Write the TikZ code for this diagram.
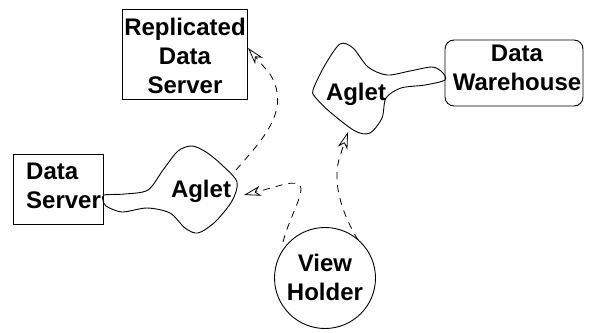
\documentclass[tikz,border=0pt]{standalone}
\usepackage{fontspec}
\setmainfont{Liberation Sans}
\usetikzlibrary{arrows.meta}
\begin{document}
\begin{tikzpicture}[x=1pt,y=-1pt,
  lbl/.style={font=\bfseries\fontsize{24}{29}\selectfont, inner sep=0pt},
  blob/.style={draw, line width=0.9pt},
  flow/.style={draw, dashed, dash pattern=on 7pt off 6pt, line width=0.8pt,
    -{Stealth[open, length=17pt, width=10pt, inset=5pt]}}]
\useasboundingbox (0,0) rectangle (589,332);

% boxes
\draw[line width=0.9pt] (122,9) rectangle (247,99);
\node[lbl, align=center] (rds) at (185,56) {Replicated\\Data\\Server};
\draw[line width=0.9pt] (13,154) rectangle (103,224);
\node[lbl, align=left, anchor=west] (ds) at (26,186) {Data\\Server};
\draw[line width=0.9pt, rounded corners=9pt] (445,40) rectangle (583,106);
\node[lbl, align=center] (dw) at (517,68) {Data\\Warehouse};

% view holder
\node[draw, circle, line width=0.9pt, minimum size=101pt, inner sep=0pt] (vhc) at (325,278) {};
\node[lbl, align=center] (vh) at (325,277) {View\\Holder};

% aglet outlines with tails reaching the servers
\draw[blob] plot[smooth cycle, tension=0.5] coordinates {
  (104,195) (125,194) (148,190) (163,170) (178,151) (192,146) (206,152)
  (222,165) (237,182) (232,201) (215,222) (198,233) (185,228) (170,213)
  (147,208) (122,212) (106,206) (103,200)};
\node[lbl, anchor=base] (ag1) at (201,197) {Aglet};

\draw[blob] plot[smooth cycle, tension=0.5] coordinates {
  (313,90) (325,65) (340,44) (353,48) (368,67) (387,75) (410,71) (432,67)
  (442,72) (445,80) (425,85) (401,88) (386,98) (382,118) (370,133)
  (355,131) (330,112) (316,98)};
\node[lbl, anchor=base] (ag2) at (356,100) {Aglet};

% migration paths
\coordinate (a1) at (236,170);
\coordinate (r1) at (248,48);
\draw[flow] (a1) .. controls (262,140) and (292,110) .. (270,74) -- (r1);

\coordinate (v1) at (283,242);
\coordinate (t1) at (244,195);
\draw[flow] (v1) .. controls (290,215) and (308,188) .. (298,184)
  .. controls (290,181) and (280,186) .. (t1);

\coordinate (v2) at (358,240);
\coordinate (t2) at (348,132);
\draw[flow] (v2) .. controls (340,210) and (332,180) .. (340,156) -- (t2);
\end{tikzpicture}
\end{document}
